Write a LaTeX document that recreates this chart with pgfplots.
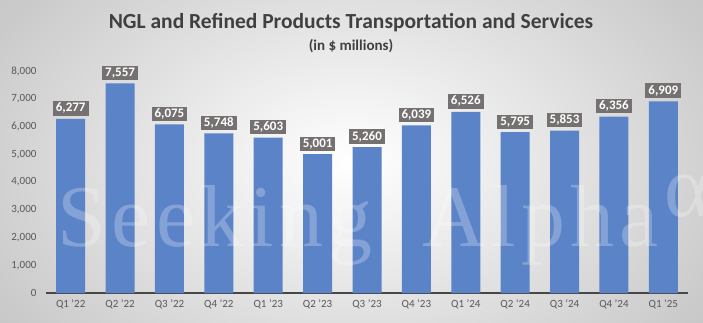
\documentclass[border=0pt]{standalone}
\usepackage{pgfplots}
\pgfplotsset{compat=1.18}
\usepackage{fontspec}
\setmainfont{Carlito}
\newfontfamily\wmfont[LetterSpace=6]{Liberation Serif}
\definecolor{barblue}{HTML}{5B83C8}
\definecolor{lblgray}{HTML}{767171}
\definecolor{txtgray}{HTML}{595959}
\definecolor{titlegray}{HTML}{404040}
\begin{document}
\begin{tikzpicture}
\clip (0,0) rectangle (703pt,322pt);
\shade[inner color=white, outer color=black!24] (-120pt,-150pt) rectangle (823pt,472pt);
\draw[black!35, line width=1pt] (0,322pt) -- (703pt,322pt);
\node[font=\fontsize{21.5}{23}\selectfont\bfseries, text=titlegray] at (351pt,299pt) {NGL and Refined Products Transportation and Services};
\node[font=\fontsize{15}{17}\selectfont\bfseries, text=titlegray] at (351pt,276pt) {(in \$ millions)};
\begin{axis}[
  at={(46pt,29pt)}, anchor=south west,
  scale only axis, width=642pt, height=222pt,
  ymin=0, ymax=8000, xmin=-0.5, xmax=12.5,
  ytick={0,1000,...,8000},
  xtick={0,...,12},
  xticklabels={Q1 '22,Q2 '22,Q3 '22,Q4 '22,Q1 '23,Q2 '23,Q3 '23,Q4 '23,Q1 '24,Q2 '24,Q3 '24,Q4 '24,Q1 '25},
  axis x line*=bottom, axis y line=none,
  x axis line style={line width=1.6pt, color=black!72, -},
  major tick length=0pt,
  ticklabel style={font=\fontsize{11}{12}\selectfont, text=txtgray},
  /pgf/number format/assume math mode=true,
  /pgf/number format/1000 sep={,},
  xticklabel style={yshift=-3pt},
  ybar, bar width=29pt,
  nodes near coords,
  nodes near coords style={fill=lblgray, text=white, font=\fontsize{13}{14}\selectfont\bfseries, inner xsep=3pt, inner ysep=2pt, yshift=3pt, /pgf/number format/1000 sep={,}, /pgf/number format/assume math mode=true},
  clip=false,
]
\addplot[fill=barblue, draw=none] coordinates {
(0,6277) (1,7557) (2,6075) (3,5748) (4,5603) (5,5001) (6,5260) (7,6039) (8,6526) (9,5795) (10,5853) (11,6356) (12,6909)};
\end{axis}
\begin{axis}[
  at={(46pt,29pt)}, anchor=south west,
  scale only axis, width=642pt, height=222pt,
  ymin=0, ymax=8000, xmin=-0.5, xmax=12.5,
  ytick={0,1000,...,8000}, xtick=\empty,
  axis x line=none, axis y line*=left, y axis line style={draw=none},
  major tick length=0pt,
  ticklabel style={font=\fontsize{11}{12}\selectfont, text=txtgray},
  /pgf/number format/assume math mode=true,
  /pgf/number format/1000 sep={,},
  yticklabel style={xshift=-6pt},
]
\end{axis}
\node[anchor=base west, font=\wmfont\fontsize{88}{88}\selectfont, text=white, opacity=0.25] at (54pt,76pt) {Seeking\hspace{50pt}Alpha\hspace{6pt}\raisebox{30pt}{α}};
\end{tikzpicture}
\end{document}
